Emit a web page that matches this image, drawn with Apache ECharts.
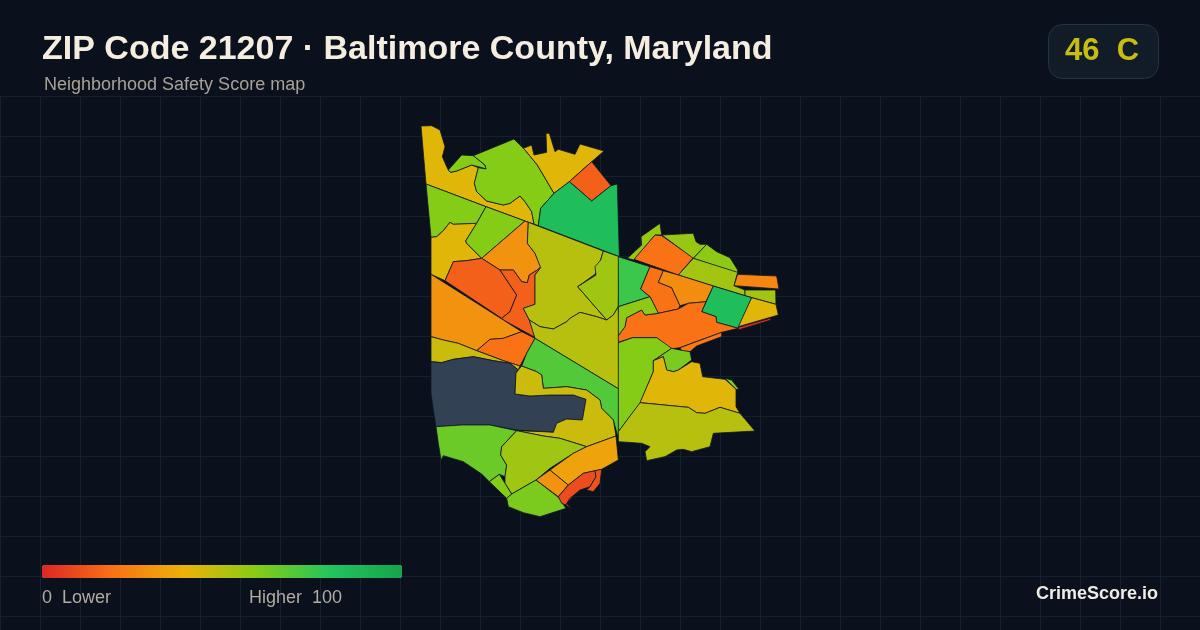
<!DOCTYPE html>
<html><head><meta charset="utf-8">
<style>html,body{margin:0;padding:0;background:#0a111c}#c{width:1200px;height:630px}</style>
<script src="https://cdn.jsdelivr.net/npm/echarts@6/dist/echarts.min.js"></script>
</head><body><div id="c"></div>
<script>
const titleText = 'ZIP Code 21207 · Baltimore County, Maryland';
const subtitleText = 'Neighborhood Safety Score map';
const badgeText = '46  C';
const brandText = 'CrimeScore.io';
const scaleColors = ['#dc2626','#f97316','#eab308','#84cc16','#22c55e','#16a34a'];

// Tracing frames for the boundaries: [origin x, origin y], units are thirds of a pixel
const NW=[410,115], SW=[410,320], NE=[610,215], SE=[610,330];

const regionNames = ['nwYellow','nwTab','nwLime','nYellow','nDiamond','nGreen','wLime','wYellow','cLime','cOrange','wRed','cRed','cOlive','cLimeEast','cOliveSouth','wOrange','cOrangeSouth','wOlive','reserve','sGreen','sOlive','sLimeWest','sLimeCentre','sLimeSmall','sLimeSouth','sOrange','sAmber','sRedA','sRedB','sRedC','eGreenWest','eTab','eOrangeTop','eLimeTop','eLimeRidge','eLimeMid','eOrangeEnd','eLimeEnd','eOrangeA','eOrangeB','eGreen','eYellow','eSliver','eOrangeBig','eOrangeStrip','eLimeWest','seLimeWest','seLimeCove','seLimeEdge','seYellow','seOlive'];
const regionScores = [42,60,60,42,15,84,60,42,60,30,15,15,50,55,50,30,20,46,null,70,46,65,55,60,62,30,35,10,12,10,75,56,20,56,58,54,26,54,20,28,84,42,2,20,22,58,60,62,60,42,50];
const regionFrames = [NW,NW,NW,NW,NW,NW,NW,NW,NW,NW,NW,NW,NW,NW,SW,NW,SW,SW,SW,SW,SW,SW,SW,SW,SW,SW,SW,SW,SW,SW,NE,NE,NE,NE,NE,NE,NE,NE,NE,NE,NE,NE,NE,NE,NE,NE,SE,SE,SE,SE,SE];
const regionRings = [
 [[33,33],[65,32],[90,45],[105,95],[97,125],[110,155],[115,165],[122,172],[140,168],[185,150],[205,158],[193,205],[200,230],[230,258],[280,270],[300,265],[330,243],[345,260],[365,290],[372,327],[345,318],[228,275],[48,207]],
 [[115,165],[155,120],[190,122],[225,150],[228,162],[205,155],[185,150],[140,168],[122,172]],
 [[190,122],[312,72],[345,105],[382,150],[432,235],[392,280],[385,332],[372,327],[365,290],[345,260],[330,243],[300,265],[280,270],[230,258],[200,230],[193,205],[205,158],[228,162],[225,150]],
 [[340,100],[365,90],[372,120],[410,112],[408,55],[418,55],[435,110],[445,103],[495,118],[510,87],[582,108],[545,140],[478,200],[432,235],[382,150],[345,105]],
 [[545,140],[603,212],[545,258],[478,200]],
 [[478,200],[545,258],[603,212],[622,207],[628,425],[385,332],[392,280],[432,235]],
 [[48,207],[228,275],[200,325],[130,328],[120,322],[100,347],[80,365],[63,367]],
 [[63,367],[80,365],[100,347],[120,322],[130,328],[200,325],[167,378],[170,385],[215,430],[170,437],[130,440],[105,497],[63,478]],
 [[228,275],[345,318],[215,430],[170,385],[167,378],[200,325]],
 [[355,322],[352,385],[375,415],[392,455],[385,463],[358,480],[352,503],[335,500],[310,465],[270,465],[215,430],[345,318]],
 [[130,440],[170,437],[215,430],[270,465],[320,540],[300,590],[275,610],[105,497]],
 [[270,465],[310,465],[335,500],[352,503],[358,480],[385,463],[392,458],[375,480],[375,568],[340,580],[358,615],[375,667],[280,615],[275,610],[300,590],[320,540]],
 [[355,322],[580,408],[572,435],[555,478],[503,515],[590,615],[560,605],[510,592],[480,610],[470,620],[430,642],[390,635],[358,615],[340,580],[375,568],[375,480],[392,458],[375,415],[352,385]],
 [[580,408],[628,425],[625,575],[610,600],[590,615],[503,515],[558,480],[555,455],[572,435]],
 [[358,0],[390,20],[430,27],[470,5],[480,-5],[510,-23],[560,-10],[590,0],[610,-15],[625,-40],[628,208],[375,55]],
 [[63,478],[280,615],[335,650],[280,670],[240,673],[200,707],[145,685],[100,675],[63,665]],
 [[200,92],[240,58],[280,55],[335,35],[375,55],[350,100],[330,138],[280,122]],
 [[63,50],[100,60],[145,70],[200,92],[280,122],[330,138],[325,150],[300,130],[250,122],[190,110],[130,118],[95,128],[63,125]],
 [[63,125],[95,128],[130,118],[190,110],[250,122],[300,130],[325,150],[318,160],[315,222],[360,228],[420,225],[490,225],[528,238],[517,300],[470,297],[440,310],[430,337],[400,335],[320,330],[240,315],[155,315],[78,320],[70,270],[63,220]],
 [[375,55],[628,208],[625,355],[610,300],[575,265],[570,240],[530,210],[470,200],[400,205],[395,165],[380,155],[335,138],[350,100]],
 [[325,150],[335,138],[380,155],[395,165],[400,205],[470,200],[530,210],[570,240],[575,265],[610,300],[618,348],[530,380],[450,355],[400,348],[320,332],[400,335],[430,337],[440,310],[470,297],[517,300],[528,238],[490,225],[420,225],[360,228],[315,222],[318,160]],
 [[78,320],[155,315],[240,315],[320,332],[275,380],[272,405],[290,435],[285,470],[268,463],[238,485],[215,462],[160,425],[100,407],[93,420],[85,370]],
 [[320,332],[400,348],[450,355],[530,380],[490,400],[420,445],[378,480],[305,522],[285,490],[285,470],[290,435],[272,405],[275,380]],
 [[268,463],[285,490],[305,522],[290,535],[238,485]],
 [[378,480],[445,532],[468,565],[390,590],[340,578],[295,560],[290,535],[305,522]],
 [[378,480],[420,450],[475,495],[445,530]],
 [[420,450],[490,400],[530,380],[618,348],[625,420],[575,448],[520,460],[475,495]],
 [[445,530],[475,495],[520,460],[555,452],[558,470],[540,500],[510,510],[480,535],[468,555],[455,550]],
 [[555,452],[575,448],[570,490],[550,515],[530,510],[540,500],[558,470]],
 [[468,555],[480,535],[490,530],[470,550],[485,567]],
 [[25,125],[120,155],[92,222],[120,245],[25,275]],
 [[52,130],[95,90],[93,65],[150,25],[155,60],[135,60],[72,135]],
 [[72,133],[135,60],[155,62],[250,128],[205,180]],
 [[155,60],[250,55],[258,80],[270,88],[290,88],[250,130]],
 [[290,88],[320,110],[360,128],[383,165],[383,175],[250,130]],
 [[250,130],[383,172],[372,212],[405,225],[405,242],[310,213],[205,180]],
 [[383,178],[500,183],[507,222],[372,212]],
 [[405,225],[497,225],[498,268],[405,242]],
 [[120,155],[160,167],[145,202],[185,218],[210,272],[205,282],[145,295],[120,245],[92,222]],
 [[160,167],[205,180],[310,213],[288,260],[235,265],[210,272],[185,218],[145,202]],
 [[310,213],[405,242],[425,248],[385,340],[320,322],[318,305],[275,290]],
 [[425,248],[498,268],[505,300],[385,335]],
 [[385,337],[480,310],[483,315],[385,345]],
 [[288,260],[275,290],[318,305],[320,322],[385,340],[335,352],[210,398],[180,402],[140,368],[68,368],[25,382],[25,362],[45,335],[50,308],[95,285],[105,300],[145,295],[205,282],[235,265]],
 [[210,398],[335,352],[335,365],[300,378],[260,393],[240,410],[215,408]],
 [[25,275],[120,245],[145,295],[105,300],[95,285],[50,308],[45,335],[25,362]],
 [[25,38],[68,23],[140,23],[185,55],[130,92],[130,125],[90,220],[25,305]],
 [[130,92],[185,55],[210,60],[240,65],[245,90],[205,120],[190,125],[170,120],[160,80]],
 [[345,145],[365,150],[387,178],[378,178]],
 [[130,125],[130,92],[160,80],[170,120],[190,125],[205,120],[245,95],[270,100],[278,140],[345,148],[378,178],[378,230],[390,250],[330,232],[285,250],[260,248],[235,232],[90,218]],
 [[90,218],[235,232],[260,248],[285,250],[330,232],[390,250],[435,303],[310,310],[300,350],[245,365],[220,358],[200,360],[165,380],[110,392],[105,365],[120,350],[95,340],[25,335],[25,305]]
];

const toPage = (p,f)=>[f[0]+p[0]/3, f[1]+p[1]/3];
const pageRings = regionRings.map((r,i)=>r.map(p=>toPage(p,regionFrames[i])));
const features = pageRings.map((r,i)=>{
  const ring = r.map(p=>[p[0],-p[1]]); ring.push(ring[0]);
  return {type:'Feature',properties:{name:regionNames[i]},geometry:{type:'Polygon',coordinates:[ring]}};
});
echarts.registerMap('zip21207',{type:'FeatureCollection',features});
const xs = pageRings.flat().map(p=>p[0]), ys = pageRings.flat().map(p=>p[1]);
const minX=Math.min(...xs), maxX=Math.max(...xs), minY=Math.min(...ys), maxY=Math.max(...ys);
const mapData = regionNames.map((n,i)=>({name:n,value:regionScores[i]})).filter(d=>d.value!==null);

const chart = echarts.init(document.getElementById('c'),null,{renderer:'canvas'});
const gridLine = {show:true,lineStyle:{color:'#142230',width:1}};
const font = '"Liberation Sans",Arial,sans-serif';
const onTop = {z:100};
chart.setOption({
  animation:false,
  backgroundColor:'#0a111c',
  grid:{left:0,top:96,width:1200,height:534,show:false},
  xAxis:{type:'value',min:0,max:1200,interval:40,axisLabel:{show:false},axisLine:{show:false},axisTick:{show:false},splitLine:gridLine},
  yAxis:{type:'value',min:0,max:534,interval:40,inverse:true,axisLabel:{show:false},axisLine:{show:false},axisTick:{show:false},splitLine:gridLine},
  visualMap:{type:'continuous',seriesIndex:0,min:0,max:100,orient:'horizontal',left:42,top:565,itemWidth:13,itemHeight:360,padding:0,borderRadius:0,
    calculable:false,hoverLink:false,showLabel:false,text:null,inRange:{color:scaleColors}},
  series:[{type:'map',map:'zip21207',aspectScale:1,roam:false,silent:true,selectedMode:false,
    left:minX,top:minY,width:maxX-minX,height:maxY-minY,
    label:{show:false},
    itemStyle:{areaColor:'#334155',borderColor:'#0f172a',borderWidth:0.8},
    data:mapData}],
  graphic:{elements:[
    {type:'text',left:42,top:33,...onTop,style:{text:titleText,fill:'#f5ede0',font:'700 34px '+font}},
    {type:'text',left:44,top:76,...onTop,style:{text:subtitleText,fill:'#a8a296',font:'18px '+font}},
    {type:'rect',left:1048,top:24,...onTop,shape:{width:110,height:54,r:14},style:{fill:'#111c28',stroke:'#263342',lineWidth:1}},
    {type:'text',left:1065,top:36,z:101,style:{text:badgeText,fill:'#c8bc12',font:'700 31px '+font}},
    {type:'text',left:42,top:589,...onTop,style:{text:'0  Lower',fill:'#b0aca0',font:'18px '+font}},
    {type:'text',left:249,top:589,...onTop,style:{text:'Higher  100',fill:'#b0aca0',font:'18px '+font}},
    {type:'text',right:42,top:585,...onTop,style:{text:brandText,fill:'#f0ebe3',font:'700 18px '+font}}
  ]}
});
</script></body></html>
